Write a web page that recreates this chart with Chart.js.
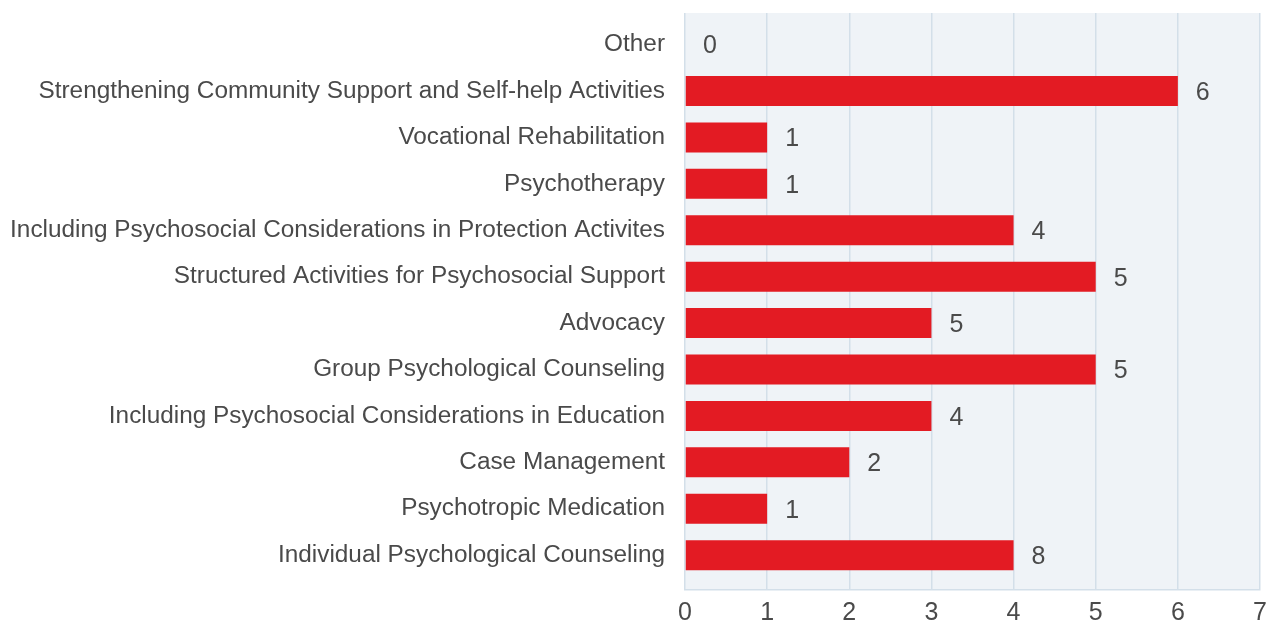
<!DOCTYPE html>
<html>
<head>
<meta charset="utf-8">
<script src="https://cdn.jsdelivr.net/npm/chart.js@4/dist/chart.umd.min.js"></script>
<style>
  html, body { margin: 0; padding: 0; background: #fff; }
  #wrap { width: 1269px; height: 625px; }
</style>
</head>
<body>
<div id="wrap"><canvas id="chart" width="1269" height="625"></canvas></div>
<script>
const categories = [
    'Other',
    'Strengthening Community Support and Self-help Activities',
    'Vocational Rehabilitation',
    'Psychotherapy',
    'Including Psychosocial Considerations in Protection Activites',
    'Structured Activities for Psychosocial Support',
    'Advocacy',
    'Group Psychological Counseling',
    'Including Psychosocial Considerations in Education',
    'Case Management',
    'Psychotropic Medication',
    'Individual Psychological Counseling'
];
// bar lengths as drawn
const barValues = [0, 6, 1, 1, 4, 5, 3, 5, 3, 2, 1, 4];
// numbers printed next to the bars
const barLabels = [0, 6, 1, 1, 4, 5, 5, 5, 4, 2, 1, 8];
const xTicks = [0, 1, 2, 3, 4, 5, 6, 7];

const font = '"Liberation Sans", Arial, Helvetica, sans-serif';
const textColor = '#4a4a4a';
const gridColor = '#d3dfe9';

const plotBg = {
    id: 'plotBg',
    beforeDraw(chart) {
        const { ctx, chartArea: a } = chart;
        ctx.save();
        ctx.fillStyle = '#eff3f7';
        ctx.fillRect(a.left, a.top, a.right - a.left, a.bottom - a.top);
        ctx.restore();
    }
};

const valueLabels = {
    id: 'valueLabels',
    afterDatasetsDraw(chart) {
        const { ctx } = chart;
        const meta = chart.getDatasetMeta(0);
        ctx.save();
        ctx.font = '25px ' + font;
        ctx.fillStyle = textColor;
        ctx.textAlign = 'left';
        ctx.textBaseline = 'middle';
        meta.data.forEach((bar, i) => {
            ctx.fillText(String(barLabels[i]), bar.x + 18, bar.y + 2);
        });
        ctx.restore();
    }
};

const ctx = document.getElementById('chart').getContext('2d');

new Chart(ctx, {
    type: 'bar',
    data: {
        datasets: [{
            data: barValues.map((v, i) => ({ x: v, y: i })),
            backgroundColor: '#e31b23',
            borderWidth: 0,
            inflateAmount: 0,
            barThickness: 30
        }]
    },
    options: {
        responsive: false,
        animation: false,
        indexAxis: 'y',
        layout: { padding: { top: 13, right: 9, left: 0, bottom: 0 } },
        plugins: {
            legend: { display: false },
            tooltip: { enabled: false }
        },
        scales: {
            x: {
                type: 'linear',
                min: xTicks[0],
                max: xTicks[xTicks.length - 1],
                afterBuildTicks: (scale) => { scale.ticks = xTicks.map(v => ({ value: v })); },
                afterFit: (scale) => {
                    scale.height = 35;
                    scale.paddingLeft = 0;
                    scale.paddingRight = 0;
                },
                grid: { color: gridColor, lineWidth: 1.5, drawTicks: false },
                border: { display: true, color: gridColor, width: 1.5 },
                ticks: {
                    padding: 8,
                    color: textColor,
                    font: { size: 25, family: font }
                }
            },
            y: {
                type: 'linear',
                reverse: true,
                offset: false,
                bounds: 'data',
                min: -0.68,
                max: 11.75,
                afterBuildTicks: (scale) => {
                    scale.ticks = categories.map((c, i) => ({ value: i }));
                    scale.min = -0.68;
                    scale.max = 11.75;
                },
                afterFit: (scale) => {
                    scale.width = 685;
                    scale.paddingTop = 0;
                    scale.paddingBottom = 0;
                },
                grid: { display: false, offset: false, drawTicks: false },
                border: { display: false },
                ticks: {
                    autoSkip: false,
                    padding: 20,
                    color: textColor,
                    font: { size: 24.35, family: font },
                    callback: (v) => categories[v]
                }
            }
        }
    },
    plugins: [plotBg, valueLabels]
});
</script>
</body>
</html>
